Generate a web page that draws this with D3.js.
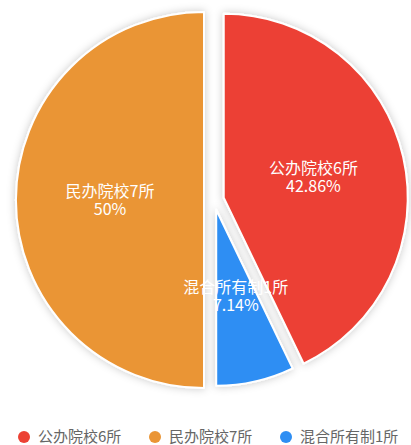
<!DOCTYPE html>
<html lang="zh">
<head>
<meta charset="utf-8">
<title>院校构成</title>
<script src="https://cdn.jsdelivr.net/npm/d3@7/dist/d3.min.js"></script>
<style>
  body { margin: 0; background: #fff; }
  text { font-family: "Noto Sans CJK SC", "Noto Sans", sans-serif; }
</style>
</head>
<body>
<svg width="411" height="445"></svg>
<script>
// 数据
var categories = ["公办院校6所", "民办院校7所", "混合所有制1所"];
var counts = [6, 7, 1];
var percents = ["42.86%", "50%", "7.14%"];
var colors = ["#ec4134", "#ea9535", "#2e8ef3"];
// 饼图绘制顺序（顺时针，从正上方开始）
var pieOrder = ["公办院校6所", "混合所有制1所", "民办院校7所"];

var svg = d3.select("svg");
var cx = 214, cy = 200, offset = 10;
// 各扇区半径（民办为高亮放大）
var radius = {"公办院校6所": 184, "混合所有制1所": 176, "民办院校7所": 188};

var defs = svg.append("defs");
var f = defs.append("filter").attr("id", "shadow")
  .attr("x", "-20%").attr("y", "-20%").attr("width", "140%").attr("height", "140%");
f.append("feDropShadow").attr("dx", 0).attr("dy", 0).attr("stdDeviation", 4)
  .attr("flood-color", "#000").attr("flood-opacity", 0.22);

var rows = pieOrder.map(function (name) {
  var i = categories.indexOf(name);
  return {name: name, value: counts[i], pct: percents[i], color: colors[i]};
});

var pie = d3.pie().sort(null).value(function (d) { return d.value; });
var arcs = pie(rows);

function shift(d, r) {
  var a = (d.startAngle + d.endAngle) / 2;
  return [Math.sin(a) * r, -Math.cos(a) * r];
}

var g = svg.append("g").attr("transform", "translate(" + cx + "," + cy + ")");

g.selectAll("path.slice")
  .data(arcs)
  .enter()
  .append("path")
    .classed("slice", true)
    .attr("transform", function (d) { return "translate(" + shift(d, offset) + ")"; })
    .attr("d", function (d) {
      return d3.arc().innerRadius(0).outerRadius(radius[d.data.name])(d);
    })
    .attr("fill", function (d) { return d.data.color; })
    .attr("stroke", "#fff")
    .attr("stroke-width", 2)
    .attr("stroke-linejoin", "round")
    .attr("filter", "url(#shadow)");

// 标签放在所有扇区之上
var label = g.selectAll("text.label")
  .data(arcs)
  .enter()
  .append("text")
    .classed("label", true)
    .attr("text-anchor", "middle")
    .attr("fill", "#fff")
    .attr("font-size", 16)
    .attr("transform", function (d) {
      var o = shift(d, offset), p = shift(d, radius[d.data.name] / 2);
      return "translate(" + (o[0] + p[0]) + "," + (o[1] + p[1]) + ")";
    });
label.append("tspan").attr("x", 0).attr("y", -3).text(function (d) { return d.data.name; });
label.append("tspan").attr("x", 0).attr("y", 15).text(function (d) { return d.data.pct; });

// 图例
var legendX = d3.scalePoint().domain(categories).range([24, 286]);
var legend = svg.selectAll("g.legend")
  .data(categories)
  .enter()
  .append("g")
    .classed("legend", true)
    .attr("transform", function (d) { return "translate(" + legendX(d) + ",437)"; });
legend.append("circle")
  .attr("r", 6)
  .attr("fill", function (d, i) { return colors[i]; });
legend.append("text")
  .attr("x", 14)
  .attr("y", 5)
  .attr("font-size", 15)
  .attr("fill", "#666")
  .text(function (d) { return d; });
</script>
</body>
</html>
